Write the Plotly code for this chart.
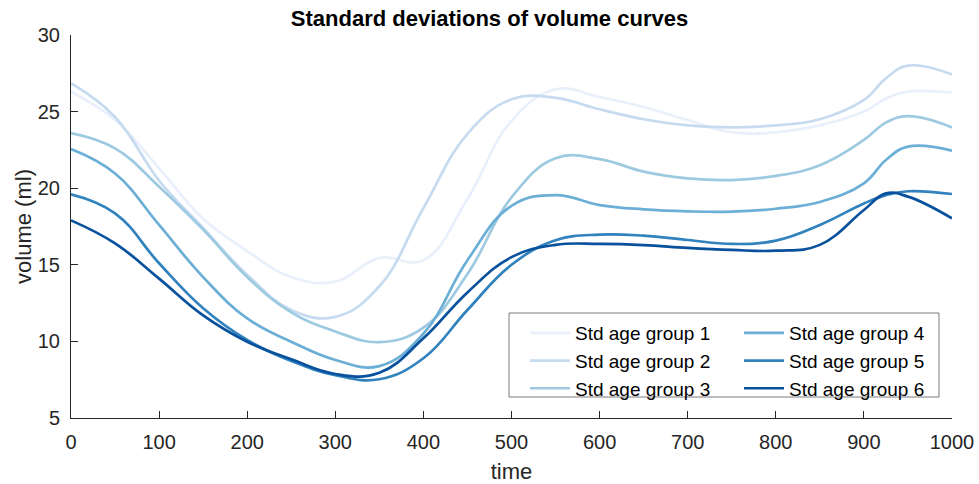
import plotly.graph_objects as go

# Time samples shared by every curve
t = [0, 50, 100, 150, 200, 250, 300, 350, 400, 450, 500, 550, 600, 650,
     700, 750, 800, 850, 900, 925, 950, 1000]

# Standard deviation of volume (ml) per age group
std_g1 = [26.3, 24.45, 21.3, 18.0, 15.9, 14.2, 13.9, 15.45, 15.3, 19.3, 24.4, 26.45,
          25.95, 25.3, 24.45, 23.65, 23.65, 24.1, 25.0, 25.86, 26.3, 26.25]
std_g2 = [26.85, 24.65, 20.5, 17.4, 14.35, 12.05, 11.6, 13.6, 18.7, 23.55, 25.8, 25.9,
          25.15, 24.5, 24.1, 23.97, 24.1, 24.5, 25.76, 27.17, 28.0, 27.43]
std_g3 = [23.6, 22.6, 20.1, 17.3, 14.2, 11.9, 10.65, 9.95, 10.9, 14.4, 19.4, 21.95,
          21.9, 21.08, 20.64, 20.53, 20.8, 21.5, 23.15, 24.28, 24.7, 23.97]
std_g4 = [22.55, 20.96, 17.6, 14.2, 11.5, 9.98, 8.79, 8.39, 10.5, 15.3, 18.85, 19.55,
          18.9, 18.62, 18.49, 18.47, 18.66, 19.1, 20.32, 21.84, 22.71, 22.45]
std_g5 = [19.6, 18.36, 15.1, 12.16, 10.09, 8.72, 7.8, 7.53, 8.9, 12.05, 15.0, 16.6,
          16.97, 16.9, 16.62, 16.36, 16.58, 17.6, 19.0, 19.55, 19.8, 19.62]
std_g6 = [17.9, 16.4, 14.1, 11.7, 9.98, 8.83, 7.87, 7.95, 10.2, 13.2, 15.5, 16.3,
          16.36, 16.29, 16.1, 15.97, 15.92, 16.3, 18.58, 19.66, 19.45, 18.03]

series = [std_g1, std_g2, std_g3, std_g4, std_g5, std_g6]
names = ["Std age group 1", "Std age group 2", "Std age group 3",
         "Std age group 4", "Std age group 5", "Std age group 6"]
colors = ["#e9f0fc", "#c6dbef", "#9ecae1", "#6baed6", "#3182bd", "#08519c"]
# first three groups in the left legend column, the rest in the right one
legend_ids = ["legend", "legend", "legend", "legend2", "legend2", "legend2"]

x_ticks = list(range(0, 1001, 100))
y_ticks = [5, 10, 15, 20, 25, 30]

FONT = "Liberation Sans, Arial, Helvetica, sans-serif"
AXIS_COLOR = "#262626"

# plot-area geometry in pixels (used to place the legend columns / frame)
W, H = 979, 484
L, R, T, B = 71, 27, 35, 66
pw, ph = W - L - R, H - T - B


def px_x(p):
    return (p - L) / pw


def px_y(p):
    return (H - B - p) / ph


fig = go.Figure()
for vals, name, col, lg in zip(series, names, colors, legend_ids):
    fig.add_trace(go.Scatter(
        x=t, y=vals, name=name, mode="lines",
        line=dict(color=col, width=2.7, shape="spline", smoothing=1.2),
        legend=lg,
    ))

legend_common = dict(
    orientation="v", yanchor="top", xanchor="left",
    bgcolor="rgba(0,0,0,0)", borderwidth=0,
    font=dict(family=FONT, size=19, color="black"),
    itemwidth=40, tracegroupgap=0,
)

fig.update_layout(
    width=W, height=H,
    margin=dict(l=L, r=R, t=T, b=B, autoexpand=False),
    paper_bgcolor="white", plot_bgcolor="white",
    font=dict(family=FONT, color=AXIS_COLOR, size=20),
    title=dict(text="<b>Standard deviations of volume curves</b>",
               x=0.5, xanchor="center",
               y=1 - 18 / H, yanchor="middle",
               font=dict(family=FONT, size=22, color="black")),
    showlegend=True,
    legend=dict(x=px_x(525), y=px_y(314), **legend_common),
    legend2=dict(x=px_x(739), y=px_y(314), **legend_common),
    shapes=[dict(
        type="rect", xref="paper", yref="paper", layer="above",
        x0=px_x(509), x1=px_x(939), y0=px_y(397), y1=px_y(313),
        line=dict(color="#7a7a7a", width=1), fillcolor="white",
    )],
)

fig.update_xaxes(
    range=[0, 1000], tickvals=x_ticks, ticktext=[str(v) for v in x_ticks],
    showgrid=False, zeroline=False, automargin=False,
    showline=True, linecolor=AXIS_COLOR, linewidth=1, mirror=False,
    ticks="inside", ticklen=7, tickcolor=AXIS_COLOR, tickwidth=1,
    ticklabelstandoff=6,
    tickfont=dict(size=20, color=AXIS_COLOR),
    title=dict(text="time", font=dict(size=22, color=AXIS_COLOR), standoff=12),
)
fig.update_yaxes(
    range=[5, 30], tickvals=y_ticks, ticktext=[str(v) for v in y_ticks],
    showgrid=False, zeroline=False, automargin=False,
    showline=True, linecolor=AXIS_COLOR, linewidth=1, mirror=False,
    ticks="inside", ticklen=7, tickcolor=AXIS_COLOR, tickwidth=1,
    ticklabelstandoff=6,
    tickfont=dict(size=20, color=AXIS_COLOR),
    title=dict(text="volume (ml)", font=dict(size=22, color=AXIS_COLOR), standoff=0),
)

fig.write_html("out.html")
